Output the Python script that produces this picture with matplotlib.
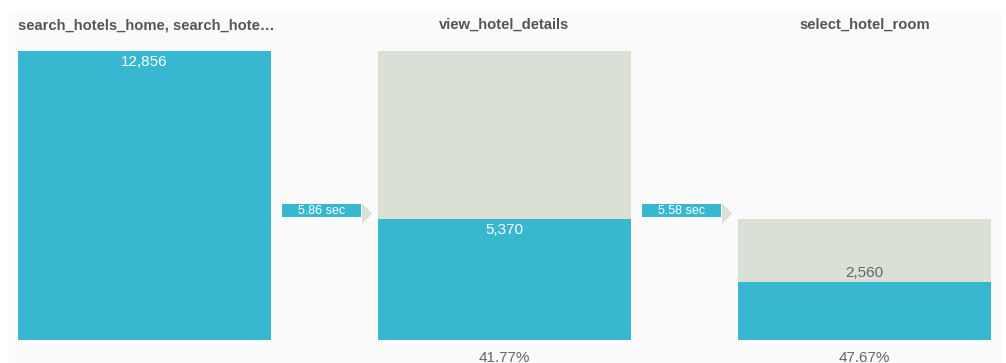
import numpy as np
import matplotlib
matplotlib.use("Agg")
import matplotlib.pyplot as plt
from matplotlib.patches import Rectangle, Polygon

plt.rcParams['font.family'] = ['Liberation Sans', 'DejaVu Sans']

# funnel data
steps = ['search_hotels_home, search_hote…', 'view_hotel_details', 'select_hotel_room']
counts = [12856, 5370, 2560]
times = ['5.86 sec', '5.58 sec']
pcts = ['', '41.77%', '47.67%']

teal = '#38b7d1'
grey = '#dbe0d6'

W, H = 1006, 363
fig = plt.figure(figsize=(W / 100, H / 100), dpi=100)
fig.patch.set_facecolor('white')
ax = fig.add_axes([0, 0, 1, 1])
ax.set_axis_off()

# pixel -> data mapping (bar step 360px, bar 0 centred at 144.5px, 289px = max count)
top = counts[0]
px_per_val = 289 / top
def vy(p):
    return (340 - p) / px_per_val
def dx(p):
    return p / 360

ax.set_xlim((0 - 144.5) / 360, (W - 144.5) / 360)
ax.set_ylim(vy(H), vy(0))

# light panel
ax.add_patch(Rectangle((dx(9 - 144.5), vy(H)), dx(993), vy(12) - vy(H),
                       facecolor='#fafafa', edgecolor='none', zorder=0))

bw = 253 / 360
for i, c in enumerate(counts):
    x0 = i - bw / 2
    prev = counts[i - 1] if i > 0 else c
    ax.bar(i, prev, width=bw, color=grey, zorder=1)
    ax.bar(i, c, width=bw, color=teal, zorder=2)
    lab = f'{c:,}'
    if c / top > 0.3:
        ax.text(i, c - 10.5 / px_per_val, lab, ha='center', va='center', color='white',
                fontsize=11, zorder=3)
    else:
        ax.text(i, c + 9.5 / px_per_val, lab, ha='center', va='center', color='#666666',
                fontsize=11, zorder=3)
    if i == 0:
        ax.text(x0, vy(25), steps[i], ha='left', va='center', color='#555555',
                fontsize=10.6, fontweight='bold')
    else:
        ax.text(i, vy(25), steps[i], ha='center', va='center', color='#555555',
                fontsize=10.6, fontweight='bold')
    if pcts[i]:
        ax.text(i, vy(358), pcts[i], ha='center', va='center', color='#666666', fontsize=11)

# time arrows between steps
for i, t in enumerate(times):
    xr = i + bw / 2
    ax.add_patch(Rectangle((xr + dx(11), vy(217)), dx(79), vy(204) - vy(217),
                           facecolor=teal, edgecolor='none', zorder=3))
    ax.add_patch(Polygon([(xr + dx(91), vy(203)), (xr + dx(101), vy(213.5)),
                          (xr + dx(91), vy(224))], closed=True,
                         facecolor=grey, edgecolor='none', zorder=3))
    ax.text(xr + dx(50.5), vy(210.5), t, ha='center', va='center', color='white',
            fontsize=9, zorder=4)

fig.savefig('out.png', dpi=100)
